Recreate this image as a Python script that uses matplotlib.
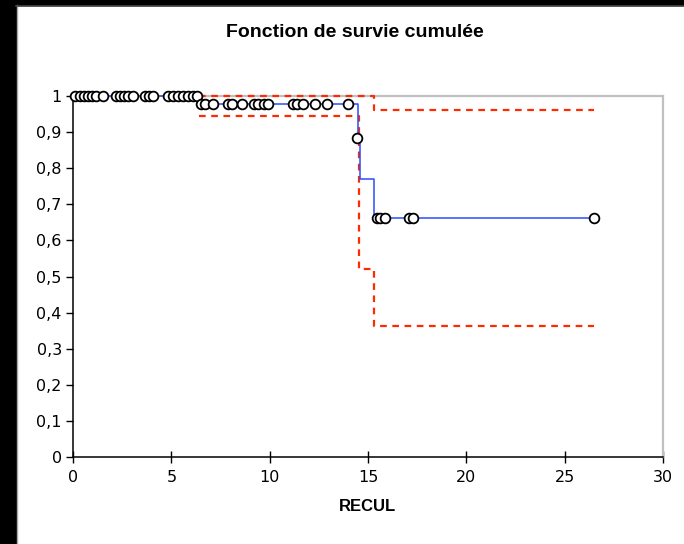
import numpy as np
import matplotlib.pyplot as plt
from matplotlib.patches import Rectangle

# survival curve steps
step_t = [0, 6.4, 14.5, 14.6, 15.3, 26.5]
step_s = [1.0, 0.977, 0.885, 0.77, 0.662, 0.662]

# confidence bounds
low_t = [6.4, 14.55, 15.3, 26.5]
low_s = [0.945, 0.52, 0.363, 0.363]
up_t = [6.4, 15.3, 26.5]
up_s = [1.0, 0.961, 0.961]

# censored observations
cens_t1 = [0.1, 0.35, 0.55, 0.75, 0.95, 1.15, 1.55, 2.2, 2.4, 2.6, 2.8, 3.05,
           3.65, 3.85, 4.05, 4.85, 5.1, 5.35, 5.6, 5.85, 6.1, 6.3]
cens_t2 = [6.5, 6.7, 7.1, 7.9, 8.1, 8.6, 9.2, 9.4, 9.7, 9.9, 11.2, 11.4,
           11.7, 12.3, 12.9, 14.0]
cens_t3 = [14.45]
cens_t4 = [15.45, 15.6, 15.85, 17.1, 17.3, 26.5]
cens_s = [1.0, 0.977, 0.885, 0.662]

xticks = [0, 5, 10, 15, 20, 25, 30]
yticks = [0, 0.1, 0.2, 0.3, 0.4, 0.5, 0.6, 0.7, 0.8, 0.9, 1.0]
ylabels = ['0', '0,1', '0,2', '0,3', '0,4', '0,5', '0,6', '0,7', '0,8', '0,9', '1']

fig = plt.figure(figsize=(6.84, 5.44), dpi=100)
ax = fig.add_axes([0.1067, 0.1599, 0.8626, 0.6636])

# black frame bits of the screenshot
fig.patches.append(Rectangle((0, 0), 16 / 684, 1, transform=fig.transFigure,
                             color='black', zorder=0))
fig.patches.append(Rectangle((0, 1 - 5 / 544), 1, 5 / 544, transform=fig.transFigure,
                             color='black', zorder=0))
fig.add_artist(plt.Line2D([16.5 / 684, 16.5 / 684], [0, 1 - 5 / 544], color='#aaaaaa',
                          lw=1, transform=fig.transFigure))
fig.add_artist(plt.Line2D([16 / 684, 1], [1 - 5.5 / 544, 1 - 5.5 / 544], color='#444444',
                          lw=1.2, transform=fig.transFigure))

red = '#ff2a00'
ax.step(low_t, low_s, where='post', color=red, lw=1.6, ls=(0, (3, 2.5)), zorder=3,
        clip_on=False)
ax.step(up_t, up_s, where='post', color=red, lw=1.6, ls=(0, (3, 2.5)), zorder=3,
        clip_on=False)
ax.step(step_t, step_s, where='post', color='#2a4cff', lw=1.1, zorder=3.5,
        clip_on=False)

for tt, ss in zip([cens_t1, cens_t2, cens_t3, cens_t4], cens_s):
    ax.plot(tt, [ss] * len(tt), 'o', ms=7, mfc='white', mec='black', mew=1.3,
            zorder=4, clip_on=False)

ax.set_xlim(0, 30)
ax.set_ylim(0, 1)
ax.set_xticks(xticks)
ax.set_yticks(yticks)
ax.set_yticklabels(ylabels)
ax.tick_params(axis='x', direction='inout', length=9, width=1, labelsize=11.5, pad=5)
ax.tick_params(axis='y', direction='out', length=5, width=1, labelsize=11.5, pad=3)
for s in ['top', 'right']:
    ax.spines[s].set_color('#c0c0c0')
    ax.spines[s].set_linewidth(1.6)
for s in ['left', 'bottom']:
    ax.spines[s].set_color('black')
    ax.spines[s].set_linewidth(1.1)

fig.text(0.519, 0.941, 'Fonction de survie cumulée', ha='center', va='center',
         fontsize=14, fontweight='bold', family='Liberation Sans')
ax.set_xlabel('RECUL', fontsize=12, fontweight='bold', family='Liberation Sans', labelpad=10)

plt.savefig('out.png', dpi=100)
